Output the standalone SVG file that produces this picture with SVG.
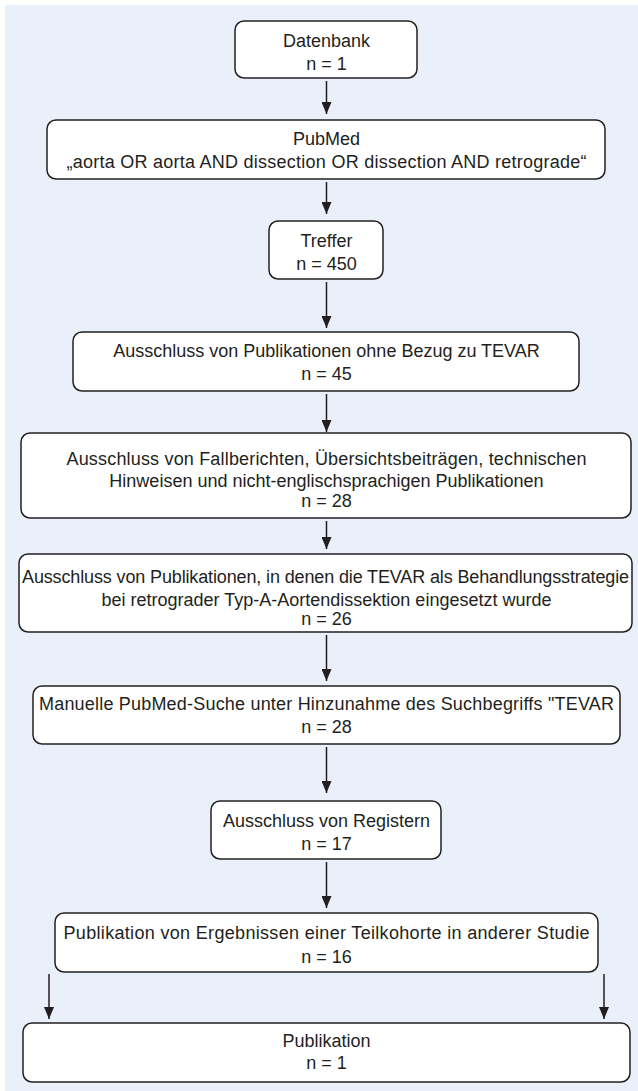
<svg xmlns="http://www.w3.org/2000/svg" width="638" height="1091" viewBox="0 0 638 1091">
<style>
.box{fill:#ffffff;stroke:#231f20;stroke-width:1.5}
.t{font-family:"Liberation Sans",Arial,sans-serif;font-size:18px;fill:#231f20;text-anchor:middle}
.c{stroke:#231f20;stroke-width:1.5;fill:none;marker-end:url(#ah)}
</style>
<defs>
<marker id="ah" viewBox="0 0 12 10" refX="12" refY="5" markerWidth="12" markerHeight="10" markerUnits="userSpaceOnUse" orient="auto">
<path d="M0,0 L12,5 L0,10 z" fill="#231f20"/>
</marker>
</defs>
<rect x="5" y="5" width="633" height="1086" fill="#eaf0f9"/>
<g id="connectors">
<line class="c" x1="326.5" y1="81" x2="326.5" y2="114"/>
<line class="c" x1="326.5" y1="182" x2="326.5" y2="214"/>
<line class="c" x1="326.5" y1="282" x2="326.5" y2="328"/>
<line class="c" x1="326.5" y1="394" x2="326.5" y2="432"/>
<line class="c" x1="326.5" y1="521" x2="326.5" y2="549"/>
<line class="c" x1="326.5" y1="635" x2="326.5" y2="681"/>
<line class="c" x1="326.5" y1="747" x2="326.5" y2="793"/>
<line class="c" x1="326.5" y1="862" x2="326.5" y2="908"/>
<line class="c" x1="49" y1="974" x2="49" y2="1019"/>
<line class="c" x1="604" y1="974" x2="604" y2="1019"/>
</g>
<g id="n1"><rect class="box" x="235" y="21" width="182" height="57" rx="9"/><text class="t" x="326.5" y="47">Datenbank</text><text class="t" x="326.5" y="70">n = 1</text></g>
<g id="n2"><rect class="box" x="47" y="120" width="558" height="59" rx="9"/><text class="t" x="326.5" y="145">PubMed</text><text class="t" x="326.5" y="168" textLength="520">„aorta OR aorta AND dissection OR dissection AND retrograde“</text></g>
<g id="n3"><rect class="box" x="269" y="221" width="114" height="58" rx="9"/><text class="t" x="326.5" y="247">Treffer</text><text class="t" x="326.5" y="270">n = 450</text></g>
<g id="n4"><rect class="box" x="73" y="332" width="506" height="59" rx="9"/><text class="t" x="326.5" y="357">Ausschluss von Publikationen ohne Bezug zu TEVAR</text><text class="t" x="326.5" y="380">n = 45</text></g>
<g id="n5"><rect class="box" x="21" y="433" width="610" height="85" rx="9"/><text class="t" x="326.5" y="465" textLength="520">Ausschluss von Fallberichten, Übersichtsbeiträgen, technischen</text><text class="t" x="326.5" y="487">Hinweisen und nicht-englischsprachigen Publikationen</text><text class="t" x="326.5" y="507">n = 28</text></g>
<g id="n6"><rect class="box" x="19" y="554" width="613" height="78" rx="9"/><text class="t" x="325.5" y="583" textLength="607">Ausschluss von Publikationen, in denen die TEVAR als Behandlungsstrategie</text><text class="t" x="326.5" y="606">bei retrograder Typ-A-Aortendissektion eingesetzt wurde</text><text class="t" x="326.5" y="625">n = 26</text></g>
<g id="n7"><rect class="box" x="33" y="686" width="587" height="58" rx="9"/><text class="t" x="326.5" y="710" textLength="575">Manuelle PubMed-Suche unter Hinzunahme des Suchbegriffs "TEVAR</text><text class="t" x="326.5" y="733">n = 28</text></g>
<g id="n8"><rect class="box" x="211" y="801" width="230" height="58" rx="9"/><text class="t" x="326.5" y="827">Ausschluss von Registern</text><text class="t" x="326.5" y="850">n = 17</text></g>
<g id="n9"><rect class="box" x="55" y="913" width="543" height="59" rx="9"/><text class="t" x="326.5" y="939" textLength="526">Publikation von Ergebnissen einer Teilkohorte in anderer Studie</text><text class="t" x="326.5" y="963">n = 16</text></g>
<g id="n10"><rect class="box" x="23" y="1023" width="607" height="59" rx="9"/><text class="t" x="326.5" y="1047">Publikation</text><text class="t" x="326.5" y="1069">n = 1</text></g>
</svg>
